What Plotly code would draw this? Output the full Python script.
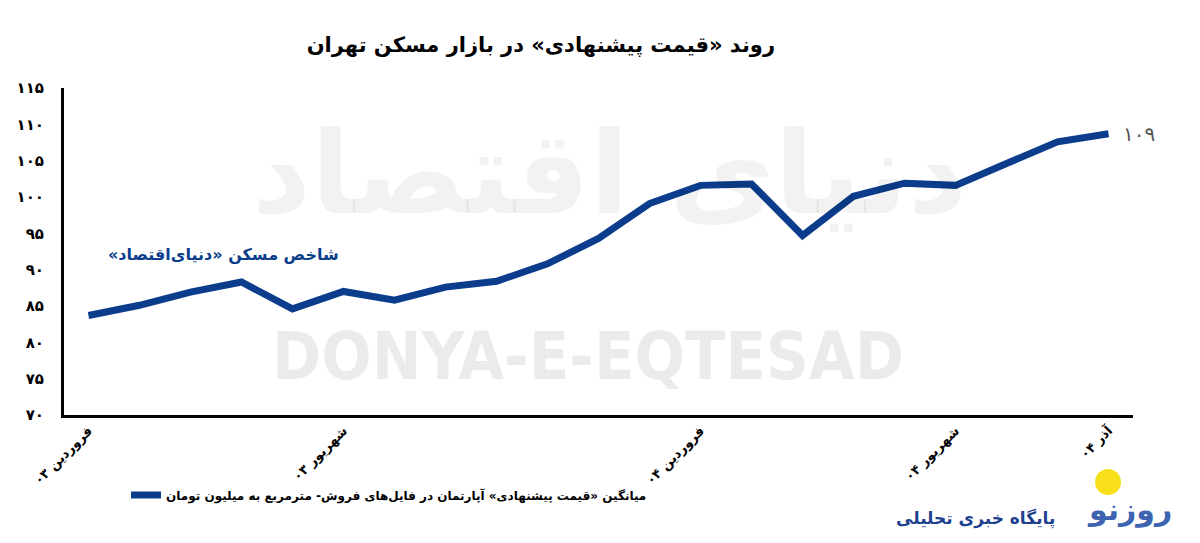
import plotly.graph_objects as go

# monthly offer price, million toman per m2 (Farvardin 03 .. Azar 04)
months = list(range(21))
price = [83.7, 85.1, 86.9, 88.3, 84.6, 87.0, 85.8, 87.6, 88.4, 90.8, 94.3,
         99.1, 101.6, 101.8, 94.7, 100.1, 101.9, 101.6, 104.6, 107.6, 108.7]
tick_pos = [0, 5, 12, 17, 20]
tick_labels = ["فروردین ۰۳", "شهریور ۰۳", "فروردین ۰۴", "شهریور ۰۴", "آذر ۰۴"]
y_ticks = list(range(70, 116, 5))

FA = str.maketrans("0123456789", "۰۱۲۳۴۵۶۷۸۹")
RLM = "\u200f"


def fa(n):
    return str(n).translate(FA)


def rtl(s):
    # force right-to-left ordering in svg text
    return RLM + s + RLM


BLUE = "#0b3d8c"
FONT = "DejaVu Sans"

fig = go.Figure()

fig.add_trace(go.Scatter(
    x=months, y=price,
    mode="lines",
    name="<b>" + rtl("میانگین «قیمت پیشنهادی» آپارتمان در فایل‌های فروش- مترمربع به میلیون تومان") + "</b>",
    line=dict(color=BLUE, width=7, shape="linear"),
    hoverinfo="skip",
))

# watermark texts (semi transparent so the line stays visible)
fig.add_annotation(
    x=0.51, y=0.74, xref="paper", yref="paper", xanchor="center", yanchor="middle",
    text="<b>" + rtl("دنیای اقتصاد") + "</b>", showarrow=False,
    font=dict(family=FONT, size=115, color="rgba(0,0,0,0.05)"),
)
fig.add_annotation(
    x=0.49, y=0.18, xref="paper", yref="paper", xanchor="center", yanchor="middle",
    text="<b>DONYA-E-EQTESAD</b>", showarrow=False,
    font=dict(family="DejaVu Sans Condensed, Liberation Sans Narrow, DejaVu Sans", size=66,
              color="rgba(0,0,0,0.08)"),
)

# series label
fig.add_annotation(
    x=0.149, y=0.49, xref="paper", yref="paper", xanchor="center", yanchor="middle",
    text="<b>" + rtl("شاخص مسکن «دنیای‌اقتصاد»") + "</b>", showarrow=False,
    font=dict(family=FONT, size=16, color=BLUE),
)

# last value label
fig.add_annotation(
    x=months[-1], y=price[-1], xref="x", yref="y",
    text=fa(round(price[-1])), showarrow=False,
    xanchor="left", xshift=12,
    font=dict(family=FONT, size=20, color="#555555"),
)

# logo (bottom right)
fig.add_shape(type="circle", xref="paper", yref="paper",
              x0=0.9645, x1=0.9888, y0=-0.2446, y1=-0.165,
              fillcolor="#f7e01a", line=dict(width=0), layer="below")
fig.add_annotation(
    x=0.997, y=-0.29, xref="paper", yref="paper", xanchor="center", yanchor="middle",
    text="<b>" + rtl("روزنو") + "</b>", showarrow=False,
    font=dict(family=FONT, size=30, color="#3d64b0"),
)
fig.add_annotation(
    x=0.853, y=-0.315, xref="paper", yref="paper", xanchor="center", yanchor="middle",
    text="<b>" + rtl("پایگاه خبری تحلیلی") + "</b>", showarrow=False,
    font=dict(family=FONT, size=17, color="#1f3f8f"),
)

# page body has an 8px margin, so the figure is a bit smaller than the window
fig.update_layout(
    width=1192, height=535,
    paper_bgcolor="white", plot_bgcolor="white",
    margin=dict(l=56, r=67, t=80, b=128, autoexpand=False),
    title=dict(
        text="<b>" + rtl("روند «قیمت پیشنهادی» در بازار مسکن تهران") + "</b>",
        x=0.447, xanchor="center", y=0.931, yanchor="middle",
        font=dict(family=FONT, size=21, color="black"),
    ),
    showlegend=True,
    legend=dict(
        orientation="h", x=0.058, y=-0.2, xanchor="left", yanchor="top",
        font=dict(family=FONT, size=12, color="black"),
        bgcolor="rgba(0,0,0,0)",
    ),
    font=dict(family=FONT),
)

fig.update_xaxes(
    range=[-0.48, 20.48], automargin=False,
    tickvals=tick_pos, ticktext=["<b>" + rtl(t) + "</b>" for t in tick_labels], tickangle=-45,
    showline=True, linecolor="black", linewidth=3,
    showgrid=False, zeroline=False, ticks="",
    tickfont=dict(family=FONT, size=13, color="black"),
)
fig.update_yaxes(
    range=[70, 115], automargin=False,
    tickvals=y_ticks, ticktext=["<b>" + fa(v) + "</b>" for v in y_ticks],
    showline=True, linecolor="black", linewidth=3,
    showgrid=False, zeroline=False, ticks="",
    ticklabelstandoff=14,
    tickfont=dict(family=FONT, size=15, color="black"),
)

fig.write_html("out.html")
